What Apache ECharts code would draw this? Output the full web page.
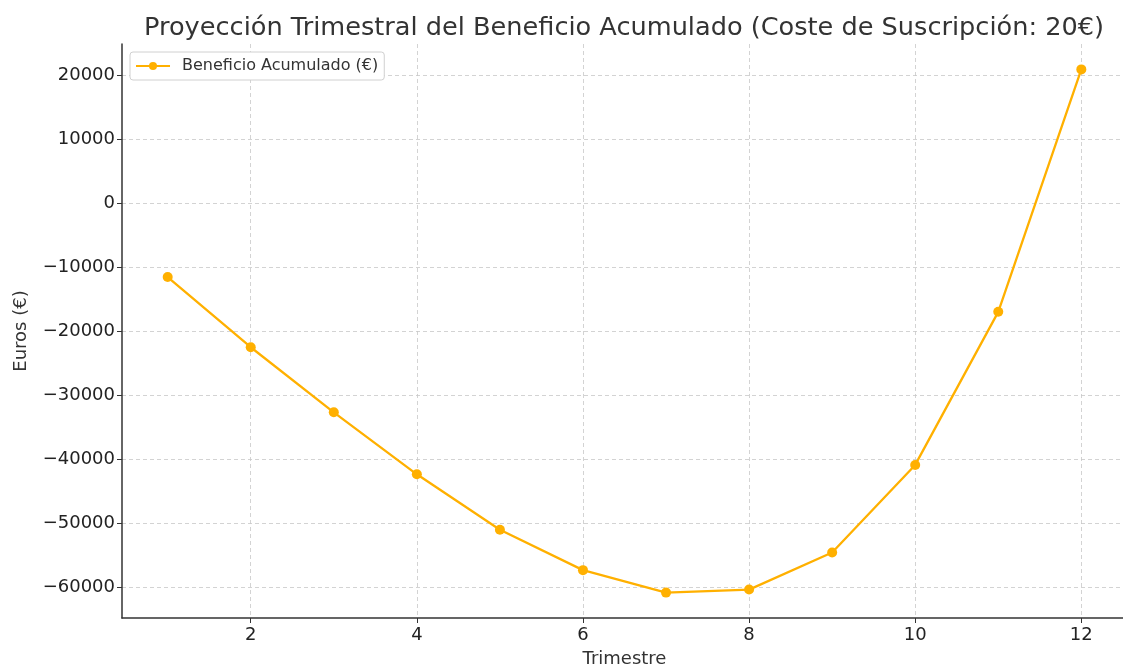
<!DOCTYPE html>
<html>
<head>
<meta charset="utf-8">
<script src="https://cdn.jsdelivr.net/npm/echarts@6/dist/echarts.min.js"></script>
<style>
html,body{margin:0;padding:0;background:#fff;}
#chart{width:1123px;height:666px;}
</style>
</head>
<body>
<div id="chart"></div>
<script>
var quarters = [1, 2, 3, 4, 5, 6, 7, 8, 9, 10, 11, 12];
var profit = [-11530, -22490, -32660, -42350, -51000, -57320, -60830, -60360, -54570, -40880, -16960, 20920];
var xTicks = [2, 4, 6, 8, 10, 12];
var yTicks = [-60000, -50000, -40000, -30000, -20000, -10000, 0, 10000, 20000];
var seriesName = 'Beneficio Acumulado (€)';
var titleText = 'Proyección Trimestral del Beneficio Acumulado (Coste de Suscripción: 20€)';

var FONT = 'DejaVu Sans';
var chart = echarts.init(document.getElementById('chart'), null, {renderer: 'canvas'});
var gridLine = {show: true, lineStyle: {color: '#c8c8c8', type: [4, 3], width: 0.8}};
chart.setOption({
  animation: false,
  backgroundColor: '#ffffff',
  title: {
    text: titleText,
    left: 619, top: 10, textAlign: 'center',
    textStyle: {fontFamily: FONT, fontSize: 25.6, fontWeight: 'normal', color: '#333333'}
  },
  legend: {
    data: [seriesName],
    left: 130, top: 52,
    padding: [6, 6, 6, 5],
    itemWidth: 34, itemHeight: 10, itemGap: 10,
    backgroundColor: '#ffffff',
    borderColor: '#d0d0d0', borderWidth: 1, borderRadius: 3,
    textStyle: {fontFamily: FONT, fontSize: 16, color: '#333333', padding: [0, 0, 0, 7]}
  },
  grid: {left: 122, top: 44, width: 1005, height: 574, containLabel: false, outerBoundsMode: 'none'},
  xAxis: {
    type: 'value', min: 0.45, max: 12.55,
    name: 'Trimestre', nameLocation: 'middle', nameGap: 32,
    nameTextStyle: {fontFamily: FONT, fontSize: 18, color: '#333333'},
    axisLine: {show: true, onZero: false, lineStyle: {color: '#333333', width: 1.5}},
    axisTick: {show: true, customValues: xTicks, length: 5, lineStyle: {color: '#333333'}},
    axisLabel: {customValues: xTicks, fontFamily: FONT, fontSize: 18, color: '#222222', margin: 8},
    splitLine: gridLine
  },
  yAxis: {
    type: 'value', min: -64800, max: 24890,
    name: 'Euros (€)', nameLocation: 'middle', nameGap: 92,
    nameTextStyle: {fontFamily: FONT, fontSize: 18, color: '#333333'},
    axisLine: {show: true, onZero: false, lineStyle: {color: '#333333', width: 1.5}},
    axisTick: {show: true, customValues: yTicks, length: 5, lineStyle: {color: '#333333'}},
    axisLabel: {customValues: yTicks, fontFamily: FONT, fontSize: 18, color: '#222222', margin: 7,
      formatter: function (v) { return String(v).replace('-', '\u2212'); }},
    splitLine: gridLine
  },
  series: [{
    name: seriesName,
    type: 'line',
    data: quarters.map(function (q, i) { return [q, profit[i]]; }),
    symbol: 'circle', symbolSize: 10, showSymbol: true,
    lineStyle: {color: '#ffb000', width: 2.3},
    itemStyle: {color: '#ffb000'}
  }]
});
</script>
</body>
</html>
